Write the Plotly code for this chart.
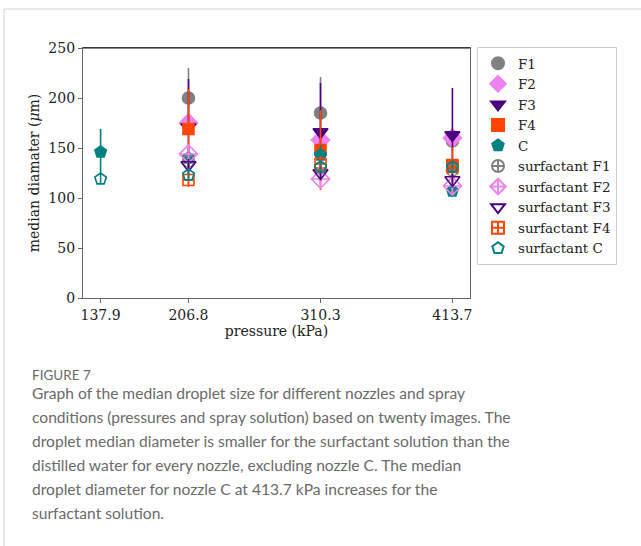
import plotly.graph_objects as go

pressures = [137.9, 206.8, 310.3, 413.7]
tick_labels = ["137.9", "206.8", "310.3", "413.7"]

F1 = [None, 200, 185, 157]
F1_err = [None, 30, 36, 10]
F2 = [None, 175, 158, 160]
F2_err = [None, 8, 8, 8]
F3 = [None, 171, 166, 163]
F3_err = [None, 48, 49, 47]
F4 = [None, 169, 148, 133]
F4_err = [None, 40, 40, 18]
C = [146, 140, 143, 107]
C_err = [23, 10, 10, 6]
sF1 = [None, 137, 130, 128]
sF1_err = [None, 6, 6, 6]
sF2 = [None, 144, 119, 112]
sF2_err = [None, 6, 6, 6]
sF3 = [None, 133, 125, 118]
sF3_err = [None, 6, 6, 6]
sF4 = [None, 118, 134, 131]
sF4_err = [None, 7, 8, 6]
sC = [119, 123, 131, 131]
sC_err = [4, 5, 5, 5]

caption_title = "FIGURE 7"
caption_lines = [
    "Graph of the median droplet size for different nozzles and spray",
    "conditions (pressures and spray solution) based on twenty images. The",
    "droplet median diameter is smaller for the surfactant solution than the",
    "distilled water for every nozzle, excluding nozzle C. The median",
    "droplet diameter for nozzle C at 413.7 kPa increases for the",
    "surfactant solution.",
]

series = [
    ("F1", F1, F1_err, "gray", "circle", 12),
    ("F2", F2, F2_err, "violet", "diamond", 14),
    ("F3", F3, F3_err, "indigo", "triangle-down", 13),
    ("F4", F4, F4_err, "orangered", "square", 11),
    ("C", C, C_err, "teal", "pentagon", 12),
    ("surfactant F1", sF1, sF1_err, "gray", "circle-cross-open", 12),
    ("surfactant F2", sF2, sF2_err, "violet", "diamond-cross-open", 14),
    ("surfactant F3", sF3, sF3_err, "indigo", "triangle-down-open", 13),
    ("surfactant F4", sF4, sF4_err, "orangered", "square-cross-open", 11),
    ("surfactant C", sC, sC_err, "teal", "pentagon-open", 12),
]

SERIF = "DejaVu Serif"
fig = go.Figure()
for name, vals, err, col, sym, sz in series:
    fig.add_trace(go.Scatter(
        x=pressures, y=vals, name=name, mode="markers",
        marker=dict(symbol=sym, size=sz, color=col, line=dict(color=col, width=1.6)),
        error_y=dict(type="data", array=err, visible=True, thickness=1.6, width=0, color=col),
    ))

L, R, T, B = 83, 171, 48, 248
PW, PH = 641 - L - R, 546 - T - B

def px_x(x):
    return (x - L) / PW

def px_y(y):
    return (546 - B - y) / PH

annotations = [dict(text=caption_title, xref="paper", yref="paper", x=px_x(30), y=px_y(375),
                    xanchor="left", yanchor="middle", showarrow=False,
                    font=dict(family="Lato", size=13.5, color="#6a6a6a"))]
line_y = [393, 417, 441, 465, 489, 513]
for txt, yy in zip(caption_lines, line_y):
    annotations.append(dict(text=txt, xref="paper", yref="paper", x=px_x(30), y=px_y(yy),
                            xanchor="left", yanchor="middle", showarrow=False,
                            font=dict(family="Lato", size=15.6, color="#6a6a6a")))

tickfont = dict(family=SERIF, size=14, color="#222222")
fig.update_layout(
    width=641, height=546,
    margin=dict(l=L, r=R, t=T, b=B),
    paper_bgcolor="white", plot_bgcolor="white",
    font=dict(family=SERIF, size=14, color="#222222"),
    showlegend=True,
    legend=dict(x=px_x(477), y=px_y(47), xanchor="left", yanchor="top",
                bordercolor="#cccccc", borderwidth=1, bgcolor="white",
                itemsizing="constant",
                font=dict(family=SERIF, size=13.5, color="#222222")),
    xaxis=dict(range=[124.1, 427.5], tickmode="array", tickvals=pressures, ticktext=tick_labels,
               tickfont=tickfont,
               showgrid=False, zeroline=False, showline=True, linecolor="#666666", linewidth=1.2,
               mirror=True, ticks="outside", ticklen=4, tickcolor="#666666",
               title=dict(text="pressure (kPa)", standoff=2, font=dict(family=SERIF, size=14))),
    yaxis=dict(range=[0, 250], tickvals=[0, 50, 100, 150, 200, 250], tickfont=tickfont,
               showgrid=False, zeroline=False, showline=True, linecolor="#666666", linewidth=1.2,
               mirror=True, ticks="outside", ticklen=4, tickcolor="#666666",
               title=dict(text="median diamater (<i>μ</i>m)", standoff=5, font=dict(family=SERIF, size=14))),
    annotations=annotations,
    shapes=[dict(type="rect", xref="paper", yref="paper", x0=px_x(4), x1=px_x(700),
                 y0=px_y(600), y1=px_y(9), line=dict(color="#d5d5d5", width=1), layer="below"),
            dict(type="line", xref="paper", yref="paper", x0=0, x1=1, y0=1, y1=1,
                 line=dict(color="#111111", width=1.2))],
)

fig.write_html("out.html")
